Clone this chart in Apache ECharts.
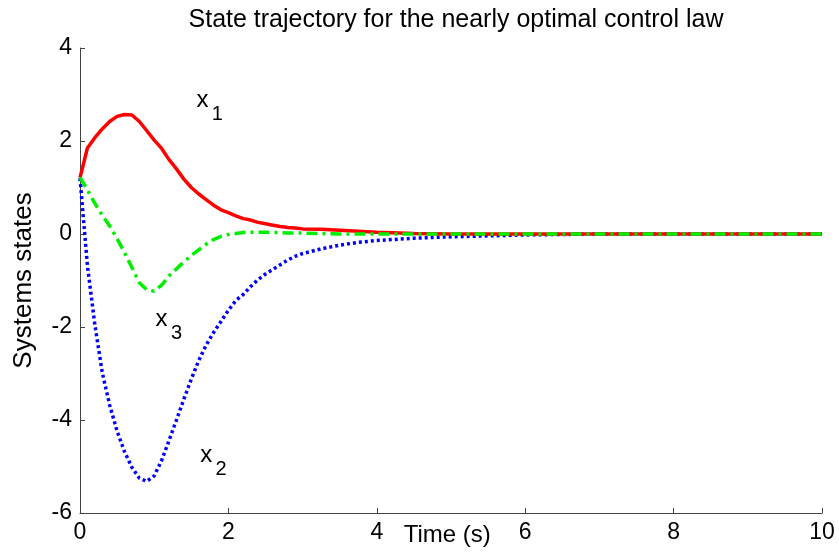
<!DOCTYPE html>
<html>
<head>
<meta charset="utf-8">
<script src="https://cdn.jsdelivr.net/npm/echarts@6/dist/echarts.min.js"></script>
<style>html,body{margin:0;padding:0;background:#fff}#c{width:839px;height:554px}</style>
</head>
<body>
<div id="c"></div>
<script>
const titleText = 'State trajectory for the nearly optimal control law';
const xName = 'Time (s)';
const yName = 'Systems states';
const time = [0,0.1,0.2,0.3,0.4,0.5,0.6,0.7,0.8,0.9,1.0,1.1,1.2,1.3,1.4,1.5,1.6,1.7,1.8,1.9,2.0,2.1,2.2,2.3,2.4,2.5,2.6,2.7,2.8,2.9,3.0,3.25,3.5,3.75,4,4.5,5,5.5,6,7,8,9,10];
const x1 = [1.21,1.85,2.07,2.26,2.42,2.53,2.57,2.56,2.42,2.22,2.02,1.84,1.60,1.40,1.18,1.00,0.86,0.74,0.62,0.52,0.46,0.39,0.33,0.30,0.25,0.22,0.19,0.16,0.14,0.13,0.11,0.10,0.08,0.06,0.04,0.01,0,0,0,0,0,0,0];
const x2 = [1.2,-0.68,-1.95,-2.98,-3.68,-4.24,-4.68,-5.02,-5.25,-5.32,-5.20,-4.87,-4.44,-4.00,-3.55,-3.12,-2.72,-2.39,-2.12,-1.88,-1.64,-1.43,-1.30,-1.13,-0.98,-0.86,-0.76,-0.66,-0.56,-0.48,-0.42,-0.32,-0.24,-0.18,-0.14,-0.09,-0.06,-0.04,-0.02,0,0,0,0];
const x3 = [1.22,0.95,0.66,0.40,0.17,-0.10,-0.40,-0.72,-1.05,-1.20,-1.23,-1.10,-0.90,-0.75,-0.60,-0.46,-0.34,-0.22,-0.12,-0.05,-0.01,0.01,0.03,0.04,0.04,0.04,0.03,0.03,0.02,0.02,0.02,0.01,0,0,0,0,0,0,0,0,0,0,0];
const labelNames = ['x','x','x'];
const labelSubs = ['1','2','3'];
const labelPos = [[1.65,2.91],[1.70,-4.72],[1.10,-1.79]];

const FF = 'Liberation Sans, Arial, sans-serif';
const pairs = ys => time.map((t,i)=>[t,ys[i]]);
const chart = echarts.init(document.getElementById('c'));
const axisCommon = {
  axisLine:{show:true,onZero:false,lineStyle:{color:'#444',width:1}},
  axisTick:{show:true,inside:true,length:5,lineStyle:{color:'#444'}},
  splitLine:{show:false},
  axisLabel:{color:'#000',fontSize:23,fontFamily:FF}
};
chart.setOption({
  animation:false,
  backgroundColor:'#fff',
  title:{text:titleText,left:451,textAlign:'center',top:3,
    textStyle:{fontSize:25,fontWeight:'normal',color:'#000',fontFamily:FF}},
  grid:{left:80,right:17,top:48,bottom:41,containLabel:false},
  xAxis:Object.assign({type:'value',min:0,max:10,interval:2},axisCommon,
    {axisLabel:Object.assign({},axisCommon.axisLabel,{margin:8})}),
  yAxis:Object.assign({type:'value',min:-6,max:4,interval:2,name:yName,nameLocation:'middle',nameGap:43,
    nameTextStyle:{fontSize:26,color:'#000',fontFamily:FF}},axisCommon,
    {axisLabel:Object.assign({},axisCommon.axisLabel,{margin:8})}),
  series:[
    {type:'line',data:pairs(x1),showSymbol:false,smooth:false,lineStyle:{color:'#ff0000',width:3.5,type:'solid'},z:3},
    {type:'line',data:pairs(x2),showSymbol:false,lineStyle:{color:'#0000ff',width:3.5,type:[3,3]},z:2},
    {type:'line',data:pairs(x3),showSymbol:false,lineStyle:{color:'#00ee00',width:3.5,type:[11,5,3,5]},z:4}
  ]
});
const graphics = [];
labelPos.forEach((p,i)=>{
  const px = chart.convertToPixel({gridIndex:0},p);
  graphics.push({type:'text',x:px[0],y:px[1]+2,style:{text:labelNames[i],fontSize:24,fontFamily:FF,fill:'#000',
    textAlign:'center',textVerticalAlign:'middle'}});
  graphics.push({type:'text',x:px[0]+15,y:px[1]+16,style:{text:labelSubs[i],fontSize:20,fontFamily:FF,fill:'#000',
    textAlign:'center',textVerticalAlign:'middle'}});
});
const xl = chart.convertToPixel({gridIndex:0},[4.95,-6]);
graphics.push({type:'text',x:xl[0],y:xl[1]+22,style:{text:xName,fontSize:24,
  fontFamily:FF,fill:'#000',textAlign:'center',textVerticalAlign:'middle'}});
chart.setOption({graphic:graphics});
</script>
</body>
</html>
